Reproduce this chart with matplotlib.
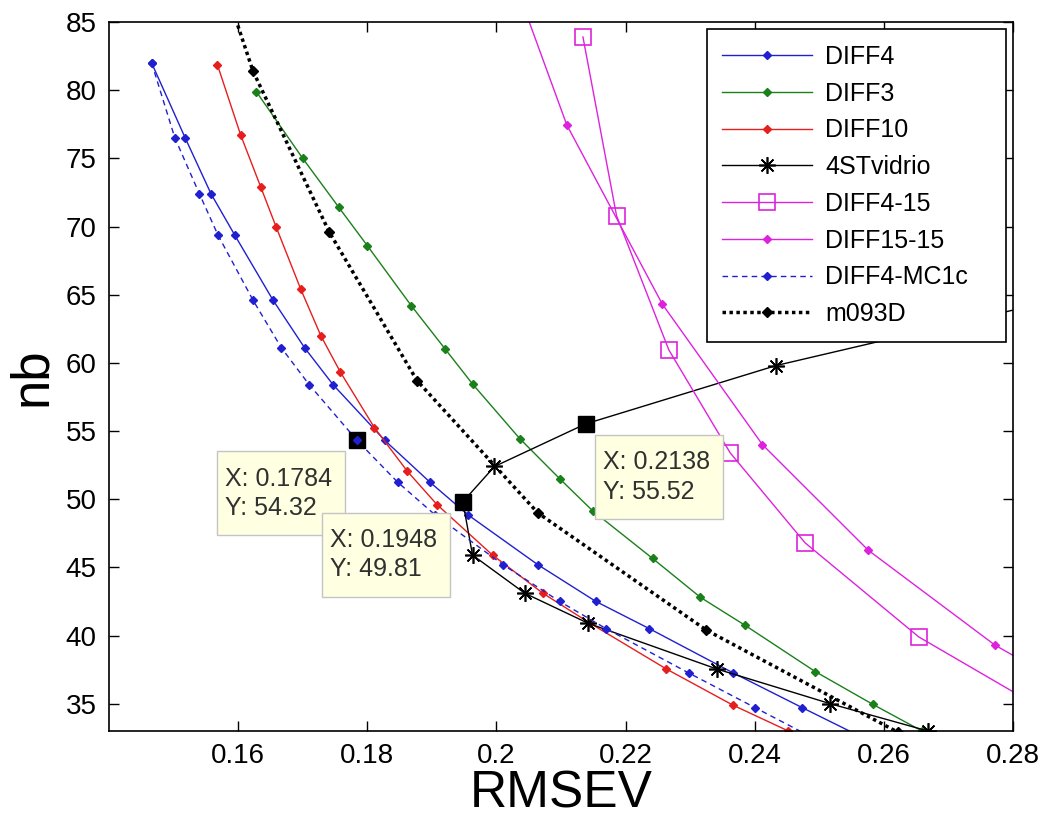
import numpy as np
import matplotlib
matplotlib.use('Agg')
import matplotlib.pyplot as plt
import matplotlib.transforms as mtransforms
from matplotlib.patches import Rectangle

plt.rcParams['font.family'] = ['Liberation Sans', 'DejaVu Sans']

# data (RMSEV vs nb)
diff4_x = [0.1466, 0.1518, 0.1558, 0.1595, 0.1654, 0.1703, 0.1747, 0.1827, 0.1897, 0.1956, 0.2064, 0.2154, 0.2237, 0.2367, 0.2474, 0.2570]
diff4_y = [82.0, 76.5, 72.4, 69.35, 64.6, 61.1, 58.4, 54.32, 51.25, 48.85, 45.2, 42.5, 40.5, 37.25, 34.7, 32.45]

diff3_x = [0.1628, 0.1700, 0.1756, 0.1800, 0.1868, 0.1920, 0.1963, 0.2036, 0.2098, 0.2149, 0.2242, 0.2316, 0.2385, 0.2494, 0.2583, 0.2659]
diff3_y = [79.9, 75.0, 71.4, 68.6, 64.2, 61.05, 58.45, 54.45, 51.5, 49.15, 45.65, 42.8, 40.75, 37.35, 34.95, 33.0]

diff10_x = [0.1568, 0.1604, 0.1635, 0.1659, 0.1697, 0.1728, 0.1758, 0.1811, 0.1862, 0.1908, 0.1994, 0.2072, 0.2145, 0.2263, 0.2366, 0.2452]
diff10_y = [81.85, 76.7, 72.9, 69.95, 65.4, 62.0, 59.35, 55.25, 52.05, 49.6, 45.9, 43.1, 40.9, 37.55, 34.9, 33.0]

vidrio_x = [0.2668, 0.2517, 0.2341, 0.2142, 0.2044, 0.1963, 0.1948, 0.1997, 0.2138, 0.2433, 0.2830]
vidrio_y = [33.0, 35.0, 37.55, 40.9, 43.1, 45.9, 49.81, 52.4, 55.52, 59.8, 64.2]

d415_x = [0.2134, 0.2186, 0.2267, 0.2362, 0.2478, 0.2654, 0.2850]
d415_y = [83.9, 70.8, 60.95, 53.4, 46.8, 39.9, 34.5]

d1515_x = [0.2020, 0.2109, 0.2257, 0.2412, 0.2576, 0.2772, 0.2950]
d1515_y = [89.0, 77.45, 64.3, 54.0, 46.25, 39.3, 34.5]

mc1c_x = [0.1466, 0.1502, 0.1540, 0.1569, 0.1623, 0.1667, 0.1710, 0.1784, 0.1847, 0.1905, 0.2010, 0.2098, 0.2170, 0.2298, 0.2401, 0.2490]
mc1c_y = [82.0, 76.5, 72.4, 69.35, 64.6, 61.1, 58.4, 54.32, 51.25, 48.85, 45.2, 42.5, 40.5, 37.25, 34.7, 32.5]

m093_x = [0.1545, 0.1623, 0.1741, 0.1877, 0.2064, 0.2325, 0.2622]
m093_y = [92.5, 81.4, 69.6, 58.7, 49.0, 40.4, 32.9]

# data tips (value + box offset in pixels from the point)
tip_x = [0.1784, 0.1948, 0.2138]
tip_y = [54.32, 49.81, 55.52]
tip_dx = [-140, -141, 9]

xticks = [0.16, 0.18, 0.20, 0.22, 0.24, 0.26, 0.28]
xticklabels = ['0.16', '0.18', '0.2', '0.22', '0.24', '0.26', '0.28']
yticks = [35, 40, 45, 50, 55, 60, 65, 70, 75, 80, 85]

blue = '#2020d0'
green = '#1a801a'
red = '#e61e1e'
mag = '#dd22dd'
ast = (8, 2, 0)

fig = plt.figure(figsize=(10.48, 8.18), dpi=100)
ax = fig.add_axes([0.104, 0.1064, 0.8626, 0.8667])
ax.set_xlim(0.14, 0.28)
ax.set_ylim(33, 85)

ax.plot(diff4_x, diff4_y, '-', color=blue, lw=1, marker='D', ms=4.5, label='DIFF4')
ax.plot(diff3_x, diff3_y, '-', color=green, lw=1, marker='D', ms=4.5, label='DIFF3')
ax.plot(diff10_x, diff10_y, '-', color=red, lw=1, marker='D', ms=4.5, label='DIFF10')
ax.plot(vidrio_x, vidrio_y, '-', color='k', lw=1, marker=ast, ms=12, mew=1.2, label='4STvidrio')
ax.plot(d415_x, d415_y, '-', color=mag, lw=1, marker='s', ms=12, mfc='none', mew=1.2, label='DIFF4-15')
ax.plot(d1515_x, d1515_y, '-', color=mag, lw=1, marker='D', ms=4.5, label='DIFF15-15')
ax.plot(mc1c_x, mc1c_y, color=blue, lw=1, ls=(0, (4, 3)), marker='D', ms=4.5, label='DIFF4-MC1c')
ax.plot(m093_x, m093_y, color='k', lw=2.5, ls=(0, (1, 1)), marker='D', ms=5, label='m093D')

# data tip markers and boxes
ax.plot(tip_x, tip_y, 's', color='k', ms=11, zorder=6)
ax.plot(tip_x[:1], tip_y[:1], 'D', color=blue, ms=4, zorder=7)
bw, bh, btop = 128, 84, -11
for x, y, dx in zip(tip_x, tip_y, tip_dx):
    tr = mtransforms.Affine2D() + mtransforms.ScaledTranslation(x, y, ax.transData)
    ax.add_patch(Rectangle((dx, btop - bh), bw, bh, transform=tr, fc='#ffffe1',
                           ec='#c4c4c4', lw=1, zorder=8, clip_on=False))
    ax.text(dx + 8, btop - bh / 2, 'X: %.4f\nY: %.2f' % (x, y), transform=tr,
            ha='left', va='center', fontsize=18, color='#303030', linespacing=1.28,
            zorder=9)

ax.set_xticks(xticks)
ax.set_xticklabels(xticklabels)
ax.set_yticks(yticks)
ax.tick_params(direction='in', length=7, width=1, labelsize=20, pad=9, top=True, right=True)
for s in ax.spines.values():
    s.set_linewidth(1.2)

ax.set_xlabel('RMSEV', fontsize=37, labelpad=0)
ax.set_ylabel('nb', fontsize=38)
ax.yaxis.set_label_coords(-0.058, 0.5)

leg = ax.legend(loc='upper left', bbox_to_anchor=(0.6615, 0.0, 0.3308, 0.9897), mode='expand',
                fontsize=18, handlelength=3.6, handletextpad=0.5,
                labelspacing=0.51, borderpad=0.62, borderaxespad=0, fancybox=False,
                framealpha=1, edgecolor='k')
leg.get_frame().set_linewidth(1.2)

plt.savefig('out.png', dpi=100)
